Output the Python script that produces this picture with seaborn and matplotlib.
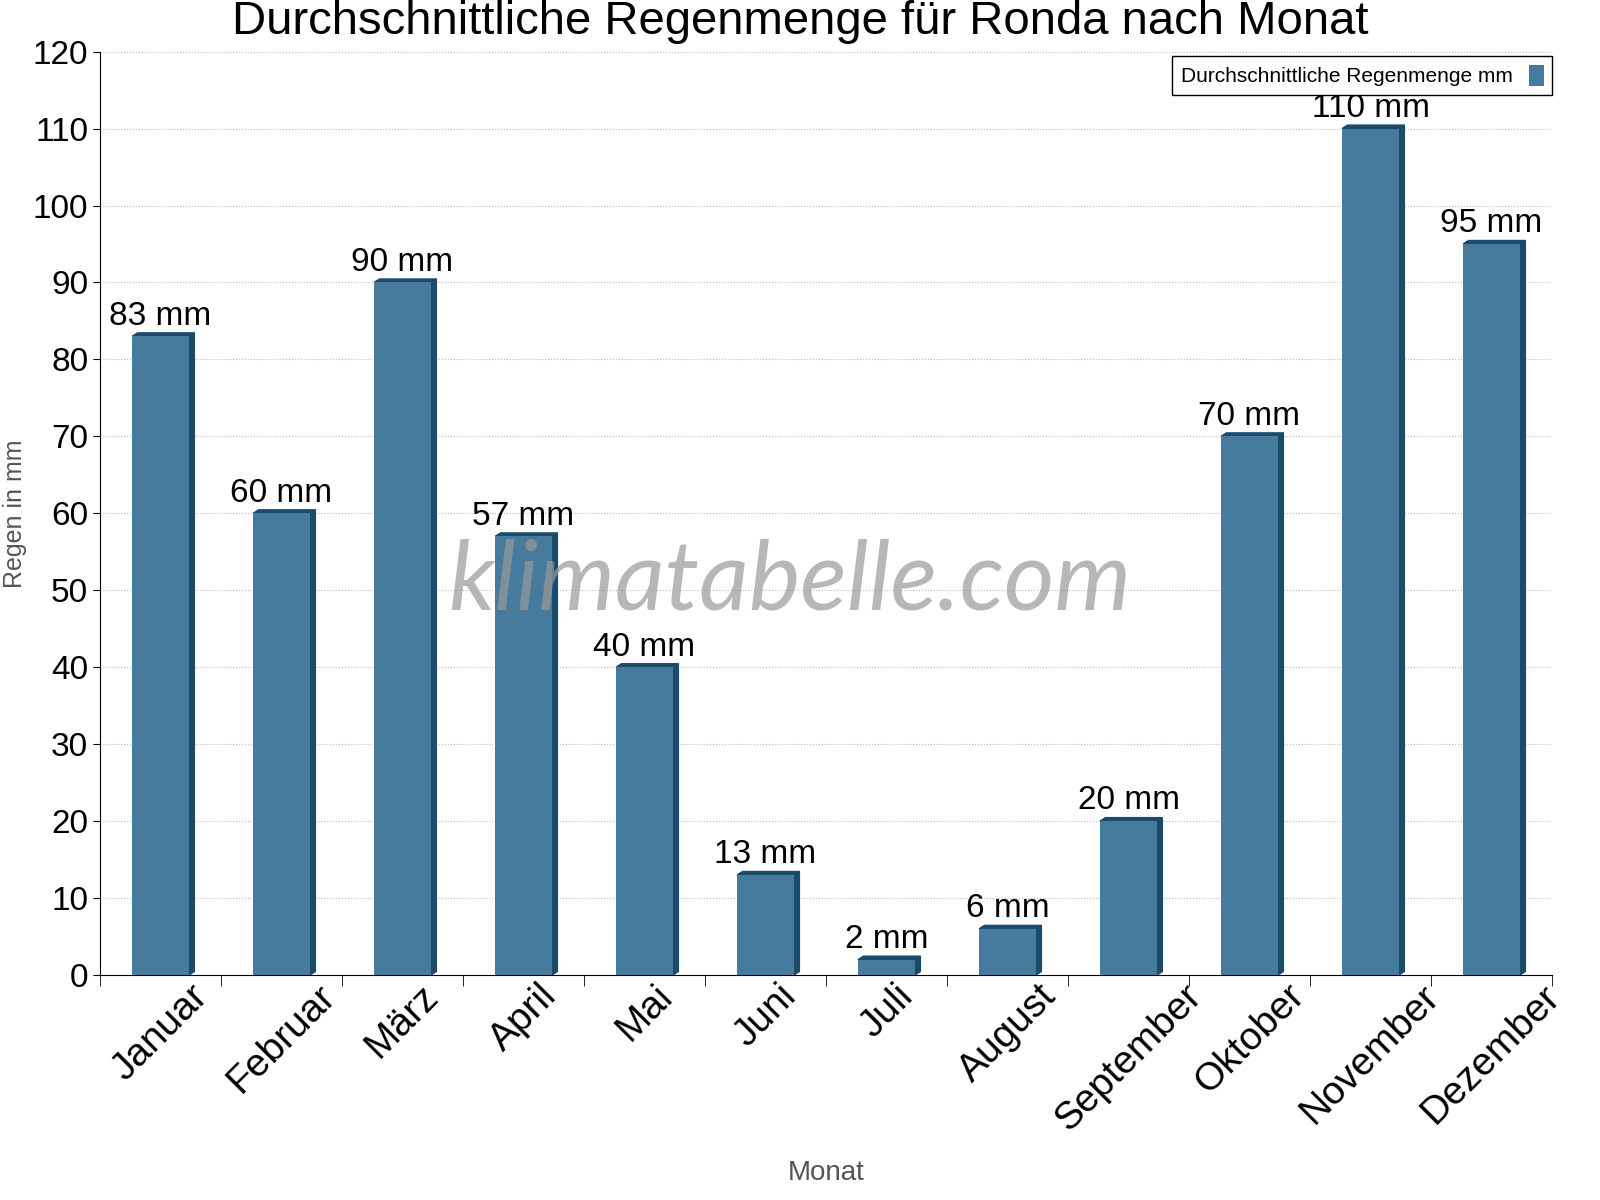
import matplotlib
matplotlib.use("Agg")
import matplotlib.pyplot as plt
import seaborn as sns
import pandas as pd
from matplotlib.patches import Polygon

months = ["Januar", "Februar", "März", "April", "Mai", "Juni", "Juli",
          "August", "September", "Oktober", "November", "Dezember"]
rain = [83, 60, 90, 57, 40, 13, 2, 6, 20, 70, 110, 95]
series_name = "Durchschnittliche Regenmenge mm"

plt.rcParams["font.family"] = "Liberation Sans"
df = pd.DataFrame({"Monat": months, "Regen": rain})

fig = plt.figure(figsize=(16, 12), dpi=100)
ax = fig.add_axes([0.0625, 0.1875, 0.9075, 0.7695])
sns.barplot(data=df, x="Monat", y="Regen", color="#467B9D", saturation=1,
            width=0.47, ax=ax, label=series_name, zorder=3)

dark = "#1B4A6B"
dx, dy = 0.045, 0.45
for p, v in zip(ax.patches, rain):
    x0, w, h = p.get_x(), p.get_width(), p.get_height()
    side = Polygon([(x0 + w, 0), (x0 + w + dx, dy), (x0 + w + dx, h + dy), (x0 + w, h)],
                   closed=True, fc=dark, ec=dark, zorder=2)
    top = Polygon([(x0, h), (x0 + dx, h + dy), (x0 + w + dx, h + dy), (x0 + w, h)],
                  closed=True, fc=dark, ec=dark, zorder=2)
    ax.add_patch(side)
    ax.add_patch(top)
    ax.text(x0 + w / 2, h + 0.6, f"{v} mm", ha="center", va="bottom", fontsize=24, zorder=5)

ax.set_xlim(-0.5, len(months) - 0.5)
ax.set_ylim(0, 120)
ax.set_yticks(range(0, 121, 10))
ax.tick_params(axis="y", labelsize=24, direction="out", length=5)
ax.set_xticks(range(len(months)))
ax.set_xticklabels(months, rotation=45, ha="center", va="top", fontsize=28)
ax.tick_params(axis="x", length=0, pad=2)
ax.set_xticks([i - 0.5 for i in range(len(months) + 1)], minor=True)
ax.tick_params(axis="x", which="minor", length=8, direction="out")
ax.grid(axis="y", linestyle=":", color="#BBBBBB", zorder=0)
for s in ["top", "right"]:
    ax.spines[s].set_visible(False)
ax.set_xlabel("Monat", fontsize=20, color="#555555")
ax.set_ylabel("Regen in mm", fontsize=18, color="#555555")
ax.xaxis.set_label_coords(0.5, -0.2)
fig.suptitle("Durchschnittliche Regenmenge für Ronda nach Monat", fontsize=34, y=1.0)
ax.text(0.475, 0.425, "klimatabelle.com", transform=ax.transAxes, fontsize=70,
        color="#999999", alpha=0.7, style="italic", fontfamily="Lato", fontweight="normal",
        ha="center", va="center", zorder=6)
leg = ax.legend(loc="upper right", bbox_to_anchor=(1.0, 0.995), borderaxespad=0,
                fontsize=15, fancybox=False, edgecolor="black",
                handlelength=0.7, handleheight=1.2, markerfirst=False, framealpha=1)
leg.get_frame().set_linewidth(1)
fig.savefig("out.png", dpi=100)
